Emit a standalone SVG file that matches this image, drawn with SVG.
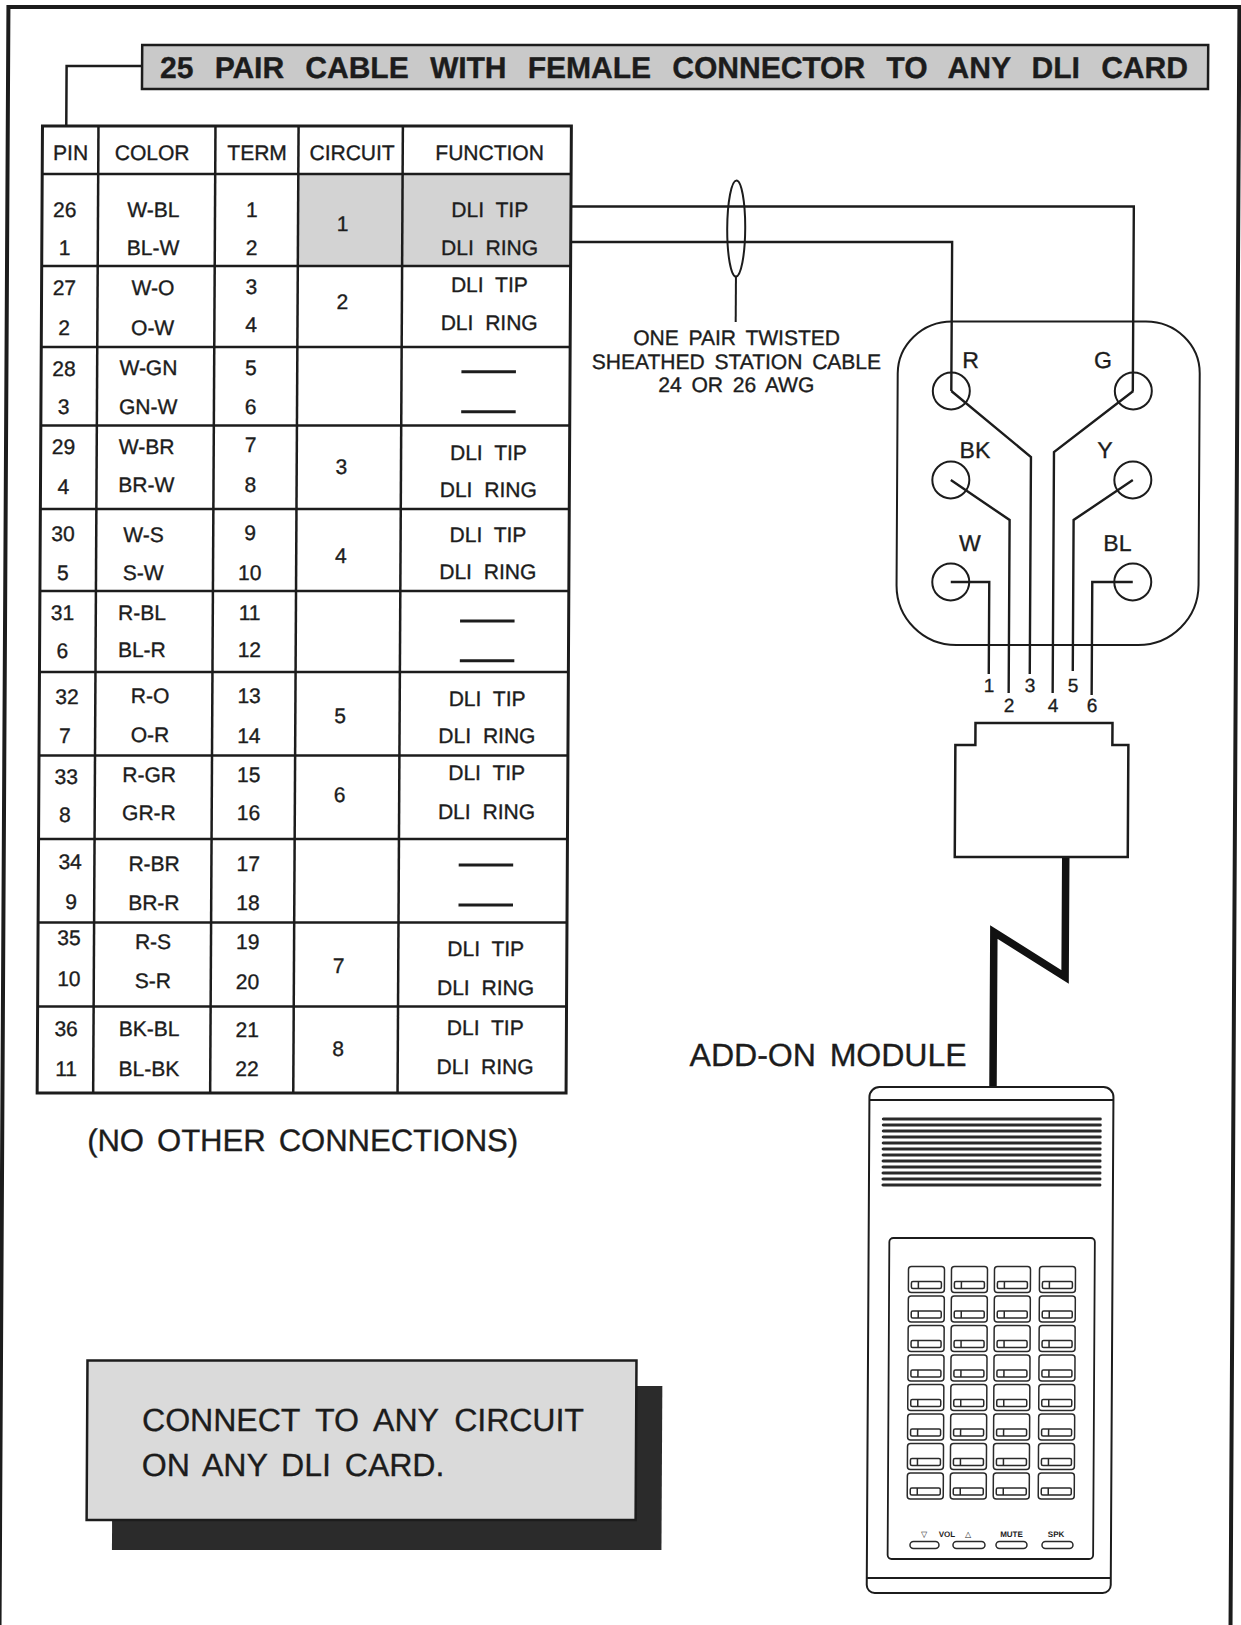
<svg xmlns="http://www.w3.org/2000/svg" width="1241" height="1625" viewBox="0 0 1241 1625">
<style>
  text { font-family: "Liberation Sans", Arial, "DejaVu Sans", sans-serif; fill: #1c1c1c; stroke: #1c1c1c; stroke-width: 0.35; }
  .t { font-size: 21px; text-anchor: middle; }
  .fn { font-size: 21px; text-anchor: middle; word-spacing: 6px; }
  .ln { fill: none; stroke: #1c1c1c; stroke-width: 2.5; }
  .thin { fill: none; stroke: #1c1c1c; stroke-width: 2; }
  .dash { stroke: #1c1c1c; stroke-width: 3; }
  .wire { fill: none; stroke: #1c1c1c; stroke-width: 2.4; }
  .lbl { font-size: 23px; text-anchor: middle; }
  .pin { font-size: 19px; text-anchor: middle; }
  .cab { font-size: 21px; text-anchor: middle; word-spacing: 4px; }
  .ctl { font-size: 8px; font-weight: bold; text-anchor: middle; stroke-width: 0; }
  .key rect, .key line { fill: none; stroke: #2a2a2a; stroke-width: 1.5; }
</style>
<defs>
  <g id="key" class="key">
    <rect x="0" y="0" width="36" height="26" rx="3"/>
    <rect x="3" y="15" width="30" height="7" rx="1.5"/>
    <line x1="10" y1="15" x2="10" y2="22"/>
  </g>
</defs>
<rect width="1241" height="1625" fill="#ffffff"/>
<g transform="matrix(1 0 -0.0055 1 4.47 0)">
  <!-- page frame -->
  <path d="M4 1625 V7 H1235 V1625" fill="none" stroke="#1c1c1c" stroke-width="4"/>

  <!-- title banner -->
  <g id="title">
    <rect x="138" y="45" width="1066" height="44" fill="#c9c9c9" stroke="#1c1c1c" stroke-width="2.5"/>
    <text x="156" y="78.5" font-size="30" font-weight="bold" word-spacing="12.9">25 PAIR CABLE WITH FEMALE CONNECTOR TO ANY DLI CARD</text>
  </g>

  <!-- connectors -->
  <g id="connectors">
    <path class="ln" d="M138 66 H62.5 V126"/>
    <!-- tip / ring pair to the jack -->
    <path class="wire" d="M567.6 206.5 H1130.5 V391"/>
    <path class="wire" d="M567.6 242 H949 V391"/>
    <!-- sheath around the pair -->
    <ellipse cx="733" cy="228.5" rx="9" ry="48" fill="none" stroke="#1c1c1c" stroke-width="2"/>
    <line x1="733" y1="276.5" x2="733" y2="322" stroke="#1c1c1c" stroke-width="2"/>
    <!-- cord from plug to module -->
    <path d="M1066 857 V977 L994.5 932 V1088" fill="none" stroke="#111" stroke-width="7.5" stroke-linejoin="miter"/>
  </g>

  <!-- pin assignment table -->
  <g id="table">
    <rect x="294.8" y="174" width="272.8" height="92" fill="#d3d3d3"/>
    <rect x="38.7" y="126" width="528.9" height="967" fill="none" stroke="#1c1c1c" stroke-width="3"/>
    <g class="ln">
      <line x1="94.7" y1="126" x2="94.7" y2="1093"/>
      <line x1="211.7" y1="126" x2="211.7" y2="1093"/>
      <line x1="294.8" y1="126" x2="294.8" y2="1093"/>
      <line x1="399.1" y1="126" x2="399.1" y2="1093"/>
      <line x1="38.7" y1="174" x2="567.6" y2="174"/>
      <line x1="38.7" y1="266" x2="567.6" y2="266"/>
      <line x1="38.7" y1="347" x2="567.6" y2="347"/>
      <line x1="38.7" y1="425.5" x2="567.6" y2="425.5"/>
      <line x1="38.7" y1="509" x2="567.6" y2="509"/>
      <line x1="38.7" y1="591" x2="567.6" y2="591"/>
      <line x1="38.7" y1="672" x2="567.6" y2="672"/>
      <line x1="38.7" y1="755.5" x2="567.6" y2="755.5"/>
      <line x1="38.7" y1="839" x2="567.6" y2="839"/>
      <line x1="38.7" y1="922.5" x2="567.6" y2="922.5"/>
      <line x1="38.7" y1="1006.5" x2="567.6" y2="1006.5"/>
    </g>
    <!-- header -->
    <text class="t" x="67" y="160.5">PIN</text>
    <text class="t" x="148.5" y="160.5">COLOR</text>
    <text class="t" x="253.5" y="160.5">TERM</text>
    <text class="t" x="348.5" y="160.5">CIRCUIT</text>
    <text class="t" x="486" y="160.5">FUNCTION</text>
    <!-- PIN -->
    <text class="t" x="61.5" y="217.5">26</text>
    <text class="t" x="61.5" y="255.5">1</text>
    <text class="t" x="61.5" y="295.5">27</text>
    <text class="t" x="61.5" y="335.5">2</text>
    <text class="t" x="61.5" y="376.5">28</text>
    <text class="t" x="61.5" y="414.5">3</text>
    <text class="t" x="61.5" y="454">29</text>
    <text class="t" x="61.5" y="494">4</text>
    <text class="t" x="61.5" y="541">30</text>
    <text class="t" x="61.5" y="580.5">5</text>
    <text class="t" x="61.5" y="620.5">31</text>
    <text class="t" x="61.5" y="658.5">6</text>
    <text class="t" x="66.4" y="704.5">32</text>
    <text class="t" x="64.4" y="743.5">7</text>
    <text class="t" x="66" y="784">33</text>
    <text class="t" x="65" y="822.5">8</text>
    <text class="t" x="70.4" y="869">34</text>
    <text class="t" x="71.6" y="909">9</text>
    <text class="t" x="69.7" y="945.5">35</text>
    <text class="t" x="69.8" y="986.5">10</text>
    <text class="t" x="67.3" y="1036.5">36</text>
    <text class="t" x="67.5" y="1076.5">11</text>
    <!-- COLOR -->
    <text class="t" x="150" y="217.5">W-BL</text>
    <text class="t" x="150" y="255.5">BL-W</text>
    <text class="t" x="150" y="295.5">W-O</text>
    <text class="t" x="150" y="335.5">O-W</text>
    <text class="t" x="146" y="375.5">W-GN</text>
    <text class="t" x="146" y="414">GN-W</text>
    <text class="t" x="144.6" y="454">W-BR</text>
    <text class="t" x="144.6" y="492.5">BR-W</text>
    <text class="t" x="142" y="542.5">W-S</text>
    <text class="t" x="142" y="580.5">S-W</text>
    <text class="t" x="141" y="620.5">R-BL</text>
    <text class="t" x="141" y="657.5">BL-R</text>
    <text class="t" x="149.5" y="703.5">R-O</text>
    <text class="t" x="149.5" y="742.5">O-R</text>
    <text class="t" x="149" y="782.5">R-GR</text>
    <text class="t" x="149" y="820.5">GR-R</text>
    <text class="t" x="154.4" y="871.5">R-BR</text>
    <text class="t" x="154.4" y="910.5">BR-R</text>
    <text class="t" x="153.8" y="949">R-S</text>
    <text class="t" x="153.8" y="988.5">S-R</text>
    <text class="t" x="150.3" y="1036.5">BK-BL</text>
    <text class="t" x="150.3" y="1076.5">BL-BK</text>
    <!-- TERM -->
    <text class="t" x="248.5" y="217.5">1</text>
    <text class="t" x="248.5" y="255.5">2</text>
    <text class="t" x="248.5" y="294.5">3</text>
    <text class="t" x="248.5" y="332.5">4</text>
    <text class="t" x="248.5" y="375.5">5</text>
    <text class="t" x="248.5" y="414">6</text>
    <text class="t" x="248.5" y="452.5">7</text>
    <text class="t" x="248.5" y="492.5">8</text>
    <text class="t" x="248.5" y="540.5">9</text>
    <text class="t" x="248.5" y="580.5">10</text>
    <text class="t" x="248.5" y="620.5">11</text>
    <text class="t" x="248.5" y="657.5">12</text>
    <text class="t" x="248.5" y="703.5">13</text>
    <text class="t" x="248.5" y="743">14</text>
    <text class="t" x="248.5" y="782.5">15</text>
    <text class="t" x="248.5" y="820.5">16</text>
    <text class="t" x="248.5" y="871.5">17</text>
    <text class="t" x="248.5" y="910.5">18</text>
    <text class="t" x="248.5" y="949">19</text>
    <text class="t" x="248.5" y="989">20</text>
    <text class="t" x="248.5" y="1037.5">21</text>
    <text class="t" x="248.5" y="1076.5">22</text>
    <!-- CIRCUIT -->
    <text class="t" x="339.5" y="231.5">1</text>
    <text class="t" x="339.5" y="309">2</text>
    <text class="t" x="339.5" y="474">3</text>
    <text class="t" x="339.5" y="563.5">4</text>
    <text class="t" x="339.5" y="723.5">5</text>
    <text class="t" x="339.5" y="802.5">6</text>
    <text class="t" x="339.5" y="973.5">7</text>
    <text class="t" x="339.5" y="1056.5">8</text>
    <!-- FUNCTION -->
    <text class="fn" x="486.5" y="217.5">DLI TIP</text>
    <text class="fn" x="486.5" y="255.5">DLI RING</text>
    <text class="fn" x="486.5" y="292.5">DLI TIP</text>
    <text class="fn" x="486.5" y="330.5">DLI RING</text>
    <line class="dash" x1="459" y1="371.7" x2="513.5" y2="371.7"/>
    <line class="dash" x1="459" y1="411.7" x2="513.5" y2="411.7"/>
    <text class="fn" x="486.5" y="460">DLI TIP</text>
    <text class="fn" x="486.5" y="497.5">DLI RING</text>
    <text class="fn" x="486.5" y="542.5">DLI TIP</text>
    <text class="fn" x="486.5" y="579">DLI RING</text>
    <line class="dash" x1="459" y1="621" x2="513.5" y2="621"/>
    <line class="dash" x1="459" y1="660.7" x2="513.5" y2="660.7"/>
    <text class="fn" x="486.5" y="706.5">DLI TIP</text>
    <text class="fn" x="486.5" y="743.5">DLI RING</text>
    <text class="fn" x="486.5" y="780.5">DLI TIP</text>
    <text class="fn" x="486.5" y="819">DLI RING</text>
    <line class="dash" x1="459" y1="865" x2="513.5" y2="865"/>
    <line class="dash" x1="459" y1="905" x2="513.5" y2="905"/>
    <text class="fn" x="486.5" y="956.5">DLI TIP</text>
    <text class="fn" x="486.5" y="995.5">DLI RING</text>
    <text class="fn" x="486.5" y="1035.5">DLI TIP</text>
    <text class="fn" x="486.5" y="1074">DLI RING</text>
  </g>

  <text x="89" y="1151.5" font-size="31" word-spacing="4.5">(NO OTHER CONNECTIONS)</text>

  <!-- cable description -->
  <g id="cable-label">
    <text class="cab" x="734" y="345.5">ONE PAIR TWISTED</text>
    <text class="cab" x="734" y="369" word-spacing="2.5">SHEATHED STATION CABLE</text>
    <text class="cab" x="734" y="392">24 OR 26 AWG</text>
  </g>

  <!-- modular jack -->
  <g id="jack">
    <path class="thin" d="M949.3 321.5 H1143.3 A54 52 0 0 1 1197.3 373.5 V585 A60 60 0 0 1 1137.3 645 H955.3 A60 60 0 0 1 895.3 585 V373.5 A54 52 0 0 1 949.3 321.5 Z"/>
    <g fill="none" stroke="#1c1c1c" stroke-width="2">
      <circle cx="949" cy="391" r="18.5"/>
      <circle cx="1131" cy="391" r="18.5"/>
      <circle cx="949" cy="480" r="18.5"/>
      <circle cx="1131" cy="480" r="18.5"/>
      <circle cx="949.5" cy="582" r="18.5"/>
      <circle cx="1131.5" cy="582" r="18.5"/>
    </g>
    <text class="lbl" x="968" y="368">R</text>
    <text class="lbl" x="1100.5" y="368">G</text>
    <text class="lbl" x="973" y="458">BK</text>
    <text class="lbl" x="1103" y="458">Y</text>
    <text class="lbl" x="968.5" y="551">W</text>
    <text class="lbl" x="1116" y="551">BL</text>
    <!-- conductors to plug positions -->
    <path class="wire" d="M949.5 582 H988 V674"/>
    <path class="wire" d="M949 480 L1008 520 V693"/>
    <path class="wire" d="M949 391 L1029 457 V674"/>
    <path class="wire" d="M1131 391 L1052 452 V693"/>
    <path class="wire" d="M1131 480 L1072 520 V671"/>
    <path class="wire" d="M1131.5 582 H1091 V695"/>
    <text class="pin" x="988.3" y="692">1</text>
    <text class="pin" x="1008.4" y="712">2</text>
    <text class="pin" x="1029.4" y="692">3</text>
    <text class="pin" x="1052.4" y="712">4</text>
    <text class="pin" x="1072.4" y="692">5</text>
    <text class="pin" x="1091.4" y="712">6</text>
  </g>

  <!-- plug -->
  <g id="plug">
    <path class="ln" d="M975 745 V723 H1112 V745 H1128 V857 H955 V745 Z"/>
  </g>

  <text x="691" y="1066" font-size="32" word-spacing="5">ADD-ON MODULE</text>

  <!-- add-on module -->
  <g id="module">
    <path class="thin" d="M881 1087 H1105 A10 10 0 0 1 1115 1097 V1585 A8 8 0 0 1 1107 1593 H879 A8 8 0 0 1 871 1585 V1097 A10 10 0 0 1 881 1087 Z"/>
    <line x1="871" y1="1100" x2="1115" y2="1100" stroke="#1c1c1c" stroke-width="1.8"/>
    <line x1="871" y1="1578" x2="1115" y2="1578" stroke="#1c1c1c" stroke-width="2"/>
    <!-- speaker grille -->
    <g stroke="#2a2a2a" stroke-width="3" stroke-linecap="round">
      <line x1="885" y1="1119" x2="1102" y2="1119"/>
      <line x1="885" y1="1125" x2="1102" y2="1125"/>
      <line x1="885" y1="1131" x2="1102" y2="1131"/>
      <line x1="885" y1="1137" x2="1102" y2="1137"/>
      <line x1="885" y1="1143" x2="1102" y2="1143"/>
      <line x1="885" y1="1149" x2="1102" y2="1149"/>
      <line x1="885" y1="1155" x2="1102" y2="1155"/>
      <line x1="885" y1="1161" x2="1102" y2="1161"/>
      <line x1="885" y1="1167" x2="1102" y2="1167"/>
      <line x1="885" y1="1173" x2="1102" y2="1173"/>
      <line x1="885" y1="1179" x2="1102" y2="1179"/>
      <line x1="885" y1="1185" x2="1102" y2="1185"/>
    </g>
    <!-- key panel -->
    <rect x="891.7" y="1238" width="205.5" height="321" rx="4" fill="none" stroke="#1c1c1c" stroke-width="1.8"/>
    <g>
      <use href="#key" x="911" y="1266.5"/><use href="#key" x="954" y="1266.5"/><use href="#key" x="997" y="1266.5"/><use href="#key" x="1042" y="1266.5"/>
      <use href="#key" x="911" y="1296"/><use href="#key" x="954" y="1296"/><use href="#key" x="997" y="1296"/><use href="#key" x="1042" y="1296"/>
      <use href="#key" x="911" y="1325.5"/><use href="#key" x="954" y="1325.5"/><use href="#key" x="997" y="1325.5"/><use href="#key" x="1042" y="1325.5"/>
      <use href="#key" x="911" y="1355"/><use href="#key" x="954" y="1355"/><use href="#key" x="997" y="1355"/><use href="#key" x="1042" y="1355"/>
      <use href="#key" x="911" y="1384.5"/><use href="#key" x="954" y="1384.5"/><use href="#key" x="997" y="1384.5"/><use href="#key" x="1042" y="1384.5"/>
      <use href="#key" x="911" y="1414"/><use href="#key" x="954" y="1414"/><use href="#key" x="997" y="1414"/><use href="#key" x="1042" y="1414"/>
      <use href="#key" x="911" y="1443.5"/><use href="#key" x="954" y="1443.5"/><use href="#key" x="997" y="1443.5"/><use href="#key" x="1042" y="1443.5"/>
      <use href="#key" x="911" y="1473"/><use href="#key" x="954" y="1473"/><use href="#key" x="997" y="1473"/><use href="#key" x="1042" y="1473"/>
    </g>
    <!-- control buttons -->
    <g fill="none" stroke="#2a2a2a" stroke-width="1.5">
      <rect x="914" y="1541.5" width="29" height="7" rx="3.5"/>
      <rect x="957" y="1541.5" width="32" height="7" rx="3.5"/>
      <rect x="1000" y="1541.5" width="31" height="7" rx="3.5"/>
      <rect x="1046" y="1541.5" width="31" height="7" rx="3.5"/>
    </g>
    <text class="ctl" x="928" y="1537">▽</text>
    <text class="ctl" x="951" y="1537">VOL</text>
    <text class="ctl" x="972" y="1537">△</text>
    <text class="ctl" x="1015.5" y="1537">MUTE</text>
    <text class="ctl" x="1060" y="1537">SPK</text>
  </g>

  <!-- note box -->
  <g id="note">
    <rect x="116" y="1386" width="549.5" height="164" fill="#2b2b2b"/>
    <rect x="90.5" y="1360.5" width="549" height="159.5" fill="#dadada" stroke="#1c1c1c" stroke-width="2.5"/>
    <text x="145.5" y="1431.5" font-size="32" word-spacing="7">CONNECT TO ANY CIRCUIT</text>
    <text x="145.5" y="1476.5" font-size="32" word-spacing="5">ON ANY DLI CARD.</text>
  </g>
</g>
</svg>
